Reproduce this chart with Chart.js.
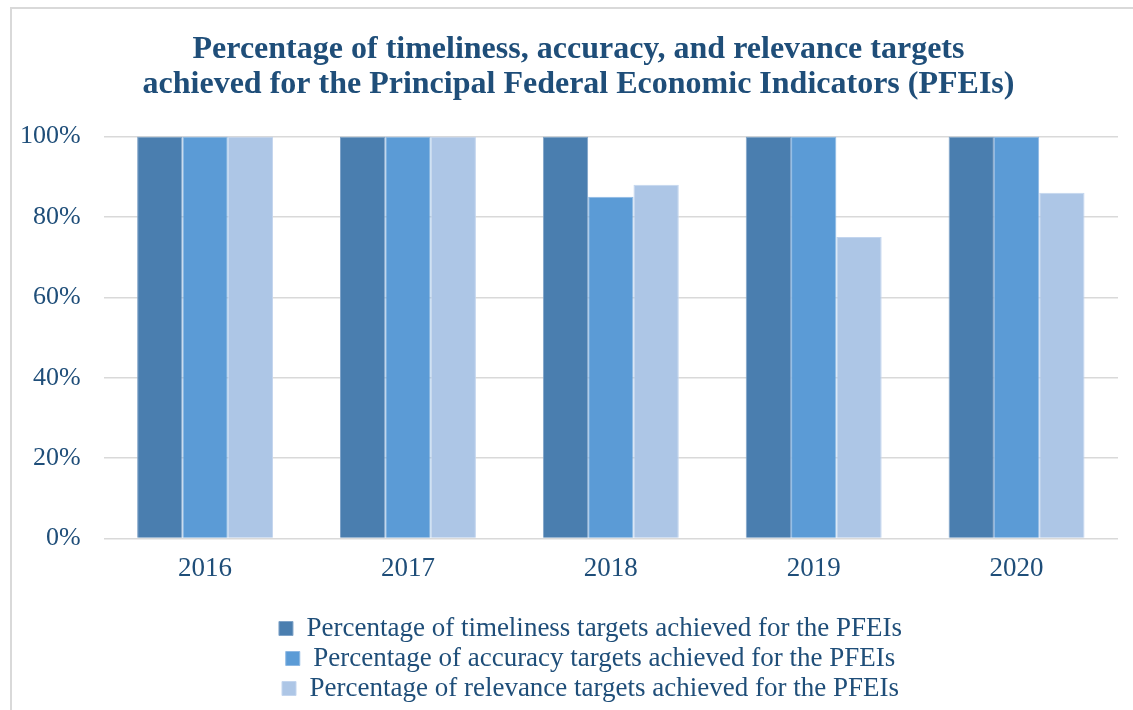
<!DOCTYPE html>
<html>
<head>
<meta charset="utf-8">
<script src="https://cdn.jsdelivr.net/npm/chart.js@4/dist/chart.umd.min.js"></script>
<style>
  body { margin: 0; background: #fff; }
  #frame { position: absolute; left: 10px; top: 7px; width: 1200px; height: 800px; border: 2px solid #d9d9d9; }
  #pfeiChart { position: absolute; left: 0; top: 0; }
</style>
</head>
<body>
<div id="frame"></div>
<canvas id="pfeiChart" width="1133" height="710"></canvas>
<script>
// chart values
const years = ['2016', '2017', '2018', '2019', '2020'];
const timeliness = [100, 100, 100, 100, 100];
const accuracy = [100, 100, 85, 100, 100];
const relevance = [100, 100, 88, 75, 86];
const seriesNames = [
    'Percentage of timeliness targets achieved for the PFEIs',
    'Percentage of accuracy targets achieved for the PFEIs',
    'Percentage of relevance targets achieved for the PFEIs'
];
const titleLines = [
    'Percentage of timeliness, accuracy, and relevance targets',
    'achieved for the Principal Federal Economic Indicators (PFEIs)'
];

document.addEventListener('DOMContentLoaded', () => {
    const textColor = '#1F4E79';
    const serif = 'Liberation Serif, Times New Roman, serif';

    // title and legend sit centred on the outer frame, not on the plot box
    const shiftBlocks = {
        id: 'shiftBlocks',
        afterLayout(chart) {
            chart.titleBlock.left += 21;
            chart.titleBlock.right += 21;
            chart.legend.left += 33;
            chart.legend.right += 33;
        }
    };

    function makeDataset (label, data, color, edge) {
        return {
            label: label,
            data: data,
            backgroundColor: color,
            borderColor: edge,
            borderWidth: 1,
            barPercentage: 1,
            categoryPercentage: 0.67
        };
    }

    const ctx = document.getElementById('pfeiChart').getContext('2d');
    new Chart(ctx, {
        type: 'bar',
        data: {
            labels: years,
            datasets: [
                makeDataset(seriesNames[0], timeliness, '#4A7EAF', '#7FA3C8'),
                makeDataset(seriesNames[1], accuracy, '#5B9BD6', '#8DB8E3'),
                makeDataset(seriesNames[2], relevance, '#ADC6E6', '#C3D5EE')
            ]
        },
        plugins: [shiftBlocks],
        options: {
            responsive: false,
            animation: false,
            layout: {
                padding: { left: -3, right: 15, top: 10, bottom: -2 }
            },
            scales: {
                x: {
                    grid: { display: false },
                    border: { display: false },
                    afterFit: axis => { axis.height += 21; },
                    ticks: {
                        color: textColor,
                        padding: 6,
                        font: { family: serif, size: 27 }
                    }
                },
                y: {
                    min: 0,
                    max: 100,
                    border: { display: false },
                    grid: { color: '#d9d9d9', lineWidth: 1.5, drawTicks: false },
                    ticks: {
                        stepSize: 20,
                        color: textColor,
                        padding: 23,
                        font: { family: serif, size: 26 },
                        callback: value => value + '%'
                    }
                }
            },
            plugins: {
                title: {
                    display: true,
                    text: titleLines,
                    color: textColor,
                    font: { family: serif, size: 32, weight: 'bold', lineHeight: 1.07 },
                    padding: { top: 23, bottom: 35 }
                },
                legend: {
                    position: 'bottom',
                    labels: {
                        color: textColor,
                        boxWidth: 14,
                        boxHeight: 14,
                        padding: 3,
                        font: { family: serif, size: 27 }
                    }
                },
                tooltip: { enabled: false }
            }
        }
    });
});
</script>
</body>
</html>
